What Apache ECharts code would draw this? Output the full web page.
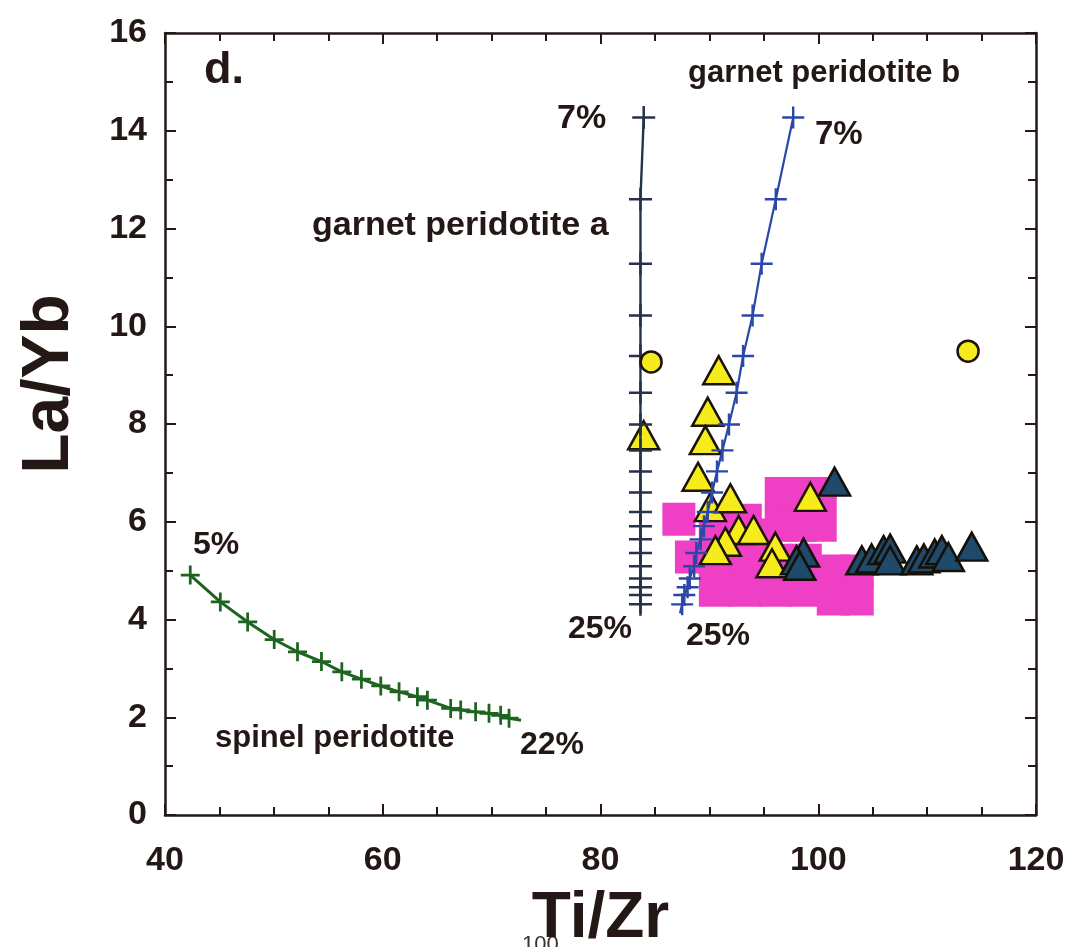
<!DOCTYPE html>
<html>
<head>
<meta charset="utf-8">
<script src="https://cdn.jsdelivr.net/npm/echarts@6/dist/echarts.min.js"></script>
<style>
html,body{margin:0;padding:0;background:#fff;overflow:hidden;}
#chart{width:1070px;height:947px;}
</style>
</head>
<body>
<div id="chart"></div>
<script>
// ---- data (Ti/Zr, La/Yb) ----
const xTickLabels = [40, 60, 80, 100, 120];
const yTickLabels = [0, 2, 4, 6, 8, 10, 12, 14, 16];

// melting curves, crosses at each melting increment
const garnetA = [[83.97,14.27],[83.67,12.6],[83.67,11.28],[83.67,10.22],[83.67,9.39],[83.67,8.64],[83.67,7.99],[83.67,7.46],[83.67,7.03],[83.67,6.6],[83.67,6.2],[83.67,5.91],[83.67,5.64],[83.67,5.36],[83.67,5.09],[83.67,4.84],[83.67,4.66],[83.67,4.5],[83.67,4.31]];
const garnetAEnd = [83.67,4.13];
const garnetB = [[97.7,14.27],[96.1,12.6],[94.8,11.28],[93.97,10.22],[93.1,9.39],[92.5,8.64],[91.8,7.99],[91.2,7.46],[90.7,7.03],[90.25,6.6],[89.85,6.2],[89.5,5.91],[89.2,5.64],[88.8,5.36],[88.6,5.09],[88.2,4.84],[88.0,4.66],[87.7,4.5],[87.5,4.31]];
const garnetBEnd = [87.3,4.13];
const spinel = [[42.32,4.91],[45.08,4.36],[47.59,3.95],[50.03,3.59],[52.17,3.34],[54.37,3.14],[56.24,2.93],[58.04,2.78],[59.82,2.64],[61.5,2.52],[63.18,2.42],[64.1,2.35],[66.24,2.18],[67.16,2.15],[68.53,2.11],[69.76,2.08],[70.83,2.04],[71.6,1.98]];
const spinelEnd = [72.7,1.94];

// field of other samples (magenta)
const pinkField = [[87.2,6.05],[88.35,5.28],[90.55,5.87],[93.3,6.03],[90.55,5.21],[93.3,5.21],[96.06,5.21],[98.81,5.21],[90.55,4.6],[93.3,4.6],[96.06,4.6],[98.81,4.6],[96.6,6.58],[98.35,6.58],[100.18,6.58],[96.6,5.93],[98.35,5.93],[100.18,5.93],[93.76,5.73],[101.38,4.99],[103.58,4.99],[101.38,4.42],[103.58,4.42]];

const yellowTriangles = [[90.86,9.10],[89.85,8.25],[89.63,7.67],[88.96,6.92],[83.97,7.77],[90.09,6.30],[91.93,6.48],[92.69,5.83],[94.06,5.83],[91.47,5.59],[90.55,5.42],[96.06,5.49],[95.75,5.15],[99.27,6.51]];
const darkTriangles = [[101.5,6.82],[98.65,5.37],[98.0,5.21],[98.3,5.1],[104.0,5.21],[104.9,5.25],[106.0,5.42],[106.6,5.45],[106.6,5.21],[109.05,5.21],[109.7,5.25],[110.7,5.35],[111.35,5.42],[111.95,5.28],[114.1,5.49]];
const yellowCircles = [[84.65,9.27],[113.76,9.49]];

// ---- styles ----
const INK = '#231815';
const FONT = 'Liberation Sans, Arial, sans-serif';
const CROSS = 'path://M0,9.8L22,9.8L22,12.2L0,12.2Z M9.8,0L12.2,0L12.2,22L9.8,22Z';
const CROSS_THICK = 'path://M0,9.4L22,9.4L22,12.6L0,12.6Z M9.4,0L12.6,0L12.6,22L9.4,22Z';

function axisCommon(showLabels, isX) {
  return {
    type: 'value',
    axisLine: {show: true, onZero: false, lineStyle: {color: INK, width: 2.5}},
    axisTick: {show: true, inside: true, length: 11, lineStyle: {color: INK, width: 2}},
    minorTick: {show: true, splitNumber: isX ? 4 : 2, length: 8, lineStyle: {color: INK, width: 2}},
    splitLine: {show: false},
    axisLabel: {show: showLabels, color: INK, fontFamily: FONT, fontWeight: 'bold', fontSize: 34,
      margin: isX ? 29 : 18}
  };
}

const chart = echarts.init(document.getElementById('chart'), null, {renderer: 'canvas'});

function curve(name, pts, end, color, z, symbol, size, width) {
  const data = pts.map(p => ({value: p}));
  data.push({value: end, symbol: 'none'});
  return {
    name, type: 'line', data, z,
    symbol, symbolSize: size,
    itemStyle: {color, opacity: 1},
    lineStyle: {color, width},
    emphasis: {disabled: true},
    animation: false
  };
}

function pts(name, data, symbol, size, fill, border, z) {
  return {name, type: 'scatter', data, symbol, symbolSize: size, z,
    itemStyle: {color: fill, borderColor: border, borderWidth: border ? 2.5 : 0, opacity: 1},
    emphasis: {disabled: true}};
}

const option = {
  animation: false,
  backgroundColor: '#ffffff',
  grid: {left: 165, right: 34, top: 33, bottom: 132, containLabel: false, outerBoundsMode: 'none'},
  xAxis: [
    Object.assign(axisCommon(true, true), {min: 40, max: 120, interval: 20, position: 'bottom',
      name: 'Ti/Zr', nameLocation: 'middle', nameGap: 72,
      nameTextStyle: {color: INK, fontFamily: FONT, fontWeight: 'bold', fontSize: 64}}),
    Object.assign(axisCommon(false, true), {min: 40, max: 120, interval: 20, position: 'top'})
  ],
  yAxis: [
    Object.assign(axisCommon(true, false), {min: 0, max: 16, interval: 2, position: 'left'}),
    Object.assign(axisCommon(false, false), {min: 0, max: 16, interval: 2, position: 'right'})
  ],
  series: [
    pts('field', pinkField, 'rect', 33, '#ee3fc5', null, 1),
    pts('yellow triangles', yellowTriangles, 'triangle', [31, 28], '#f6ec1c', '#1c140c', 3),
    pts('dark triangles', darkTriangles, 'triangle', [31, 28], '#1f4a6c', '#141008', 3),
    curve('garnet peridotite a', garnetA, garnetAEnd, '#25324a', 4, CROSS, 23, 2.4),
    curve('garnet peridotite b', garnetB, garnetBEnd, '#2b47a8', 4, CROSS, 22, 2.2),
    curve('spinel peridotite', spinel, spinelEnd, '#1e6420', 4, CROSS_THICK, 19, 3),
    pts('yellow circles', yellowCircles, 'circle', 21, '#f6ec1c', '#1c140c', 5)
  ],
  graphic: [
    {type: 'text', x: 50, y: 384, rotation: Math.PI / 2,
      style: {text: 'La/Yb', fill: INK, font: 'bold 66px ' + FONT, align: 'center', verticalAlign: 'middle'}},
    {type: 'text', left: 204, top: 48, style: {text: 'd.', fill: INK, font: 'bold 45px ' + FONT}},
    {type: 'text', left: 688, top: 58, style: {text: 'garnet peridotite b', fill: INK, font: 'bold 31px ' + FONT}},
    {type: 'text', left: 557, top: 102, style: {text: '7%', fill: INK, font: 'bold 34px ' + FONT}},
    {type: 'text', left: 815, top: 118, style: {text: '7%', fill: INK, font: 'bold 33px ' + FONT}},
    {type: 'text', left: 312, top: 209, style: {text: 'garnet peridotite a', fill: INK, font: 'bold 34px ' + FONT}},
    {type: 'text', left: 568, top: 613, style: {text: '25%', fill: INK, font: 'bold 32px ' + FONT}},
    {type: 'text', left: 686, top: 620, style: {text: '25%', fill: INK, font: 'bold 32px ' + FONT}},
    {type: 'text', left: 193, top: 529, style: {text: '5%', fill: INK, font: 'bold 32px ' + FONT}},
    {type: 'text', left: 215, top: 723, style: {text: 'spinel peridotite', fill: INK, font: 'bold 31px ' + FONT}},
    {type: 'text', left: 520, top: 729, style: {text: '22%', fill: INK, font: 'bold 32px ' + FONT}},
    {type: 'text', left: 522, top: 934, style: {text: '100', fill: '#3a3030', font: '22px ' + FONT}}
  ]
};
chart.setOption(option);
</script>
</body>
</html>
